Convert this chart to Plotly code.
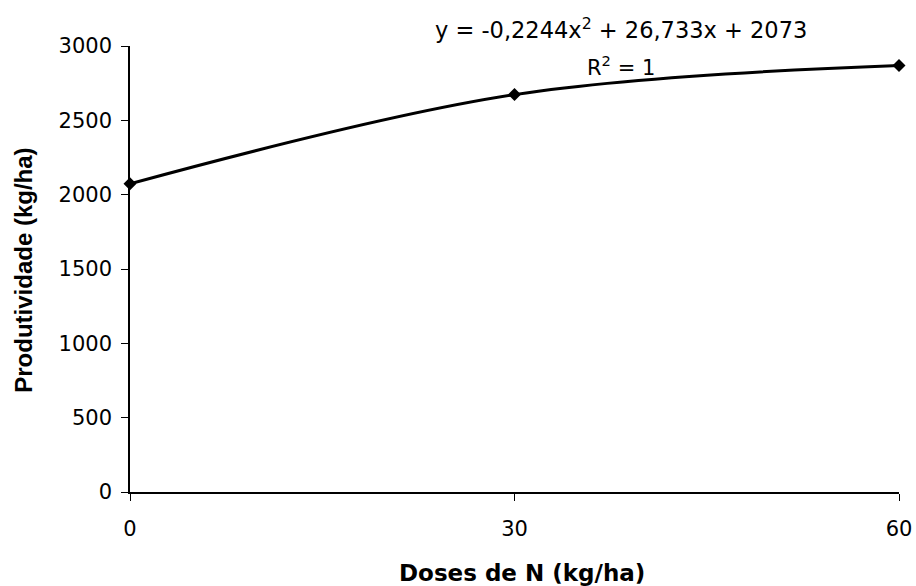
import plotly.graph_objects as go

doses = [0, 30, 60]
produtividade = [2073, 2673, 2869]
y_ticks = [0, 500, 1000, 1500, 2000, 2500, 3000]
x_ticks = [0, 30, 60]
equation = "y = -0,2244x<sup>2</sup> + 26,733x + 2073"
r2_text = "R<sup>2</sup> = 1"
x_title = "<b>Doses de N (kg/ha)</b>"
y_title = "<b>Produtividade (kg/ha)</b>"

wide = "DejaVu Sans, Verdana, sans-serif"
narrow = "Liberation Sans, Arial, sans-serif"

fig = go.Figure()
fig.add_trace(go.Scatter(
    x=doses, y=produtividade, mode="lines+markers",
    line=dict(color="black", width=3, shape="spline"),
    marker=dict(symbol="diamond", size=10, color="black"),
    cliponaxis=False, showlegend=False,
))

fig.add_annotation(x=0.638, y=1.04, xref="paper", yref="paper", text=equation,
                   showarrow=False, font=dict(family=wide, size=22.5, color="black"),
                   xanchor="center", yanchor="middle")
fig.add_annotation(x=0.639, y=0.955, xref="paper", yref="paper", text=r2_text,
                   showarrow=False, font=dict(family=wide, size=21, color="black"),
                   xanchor="center", yanchor="middle")
fig.add_annotation(x=0.51, y=-0.182, xref="paper", yref="paper", text=x_title,
                   showarrow=False, font=dict(family=wide, size=23, color="black"),
                   xanchor="center", yanchor="middle")
fig.add_annotation(x=-0.138, y=0.498, xref="paper", yref="paper", text=y_title,
                   showarrow=False, textangle=-90,
                   font=dict(family=narrow, size=24, color="black"),
                   xanchor="center", yanchor="middle")

fig.update_layout(
    width=916, height=586,
    margin=dict(l=130, r=17, t=46, b=94, autoexpand=False),
    paper_bgcolor="white", plot_bgcolor="white",
    font=dict(family=wide, color="black"),
    xaxis=dict(range=[0, 60], tickvals=x_ticks, ticks="outside", ticklen=7,
               tickcolor="black", showline=True, linecolor="black", linewidth=1.5,
               showgrid=False, zeroline=False, automargin=False,
               ticklabelstandoff=10, ticklabeloverflow="allow",
               tickfont=dict(family=wide, size=21)),
    yaxis=dict(range=[0, 3000], tickvals=y_ticks, ticks="outside", ticklen=7,
               tickcolor="black", showline=True, linecolor="black", linewidth=1.5,
               showgrid=False, zeroline=False, automargin=False,
               ticklabelstandoff=5, ticklabeloverflow="allow",
               tickfont=dict(family=wide, size=21)),
)

fig.write_html(
    "out.html",
    config={"displayModeBar": False},
    post_script="document.body.style.margin='0';document.body.style.overflow='hidden';",
)
